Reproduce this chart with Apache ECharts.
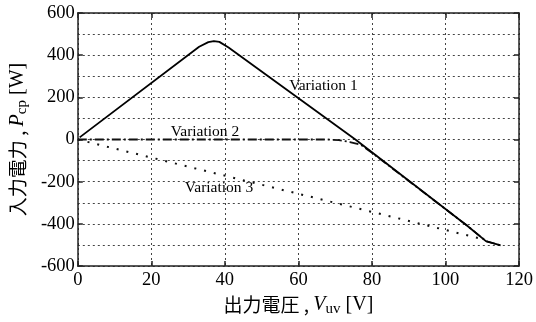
<!DOCTYPE html>
<html>
<head>
<meta charset="utf-8">
<script src="https://cdn.jsdelivr.net/npm/echarts@6/dist/echarts.min.js"></script>
<style>
  html, body { margin: 0; padding: 0; background: #fff; }
  #chart { width: 536px; height: 322px; }
</style>
</head>
<body>
<div id="chart"></div>
<script>
// Output voltage V_uv [V] vs input power P_cp [W] for three control variations
const variation1 = [
  [0.5, 10], [33, 440], [35.5, 462], [37, 467], [38.5, 463], [41, 436],
  [75.5, 0], [106, -410], [111, -482], [115, -502]
];
const variation2 = [
  [0, 0], [68, 0], [71, -3], [74, -12], [77, -25], [80, -63],
  [106, -410], [111, -482], [115, -502]
];
const variation3 = [[0, 0], [110, -472]];

const seriesNames = ['Variation 1', 'Variation 2', 'Variation 3'];
// anchor (in data units) of each series name
const nameAnchors = [[66.8, 254], [34.6, 37], [38.4, -231]];

const xTicks = { min: 0, max: 120, step: 20 };
const yTicks = { min: -600, max: 600, step: 200 };

const serif = 'Liberation Serif, Times New Roman, serif';
const cjk = 'Noto Sans CJK JP, sans-serif';
const gridDots = { type: [2, 3], color: '#444', width: 1 };
const frame = { color: '#222', width: 1.5 };

const chart = echarts.init(document.getElementById('chart'), null, { renderer: 'canvas' });

const titleRich = {
  c: { fontFamily: cjk, fontSize: 19, color: '#000', lineHeight: 24 },
  i: { fontFamily: serif, fontStyle: 'italic', fontSize: 20, color: '#000', lineHeight: 24 },
  s: { fontFamily: serif, fontSize: 15, color: '#000', lineHeight: 18, verticalAlign: 'bottom' },
  n: { fontFamily: serif, fontSize: 20, color: '#000', lineHeight: 24 }
};

chart.setOption({
  animation: false,
  backgroundColor: '#fff',
  grid: { left: 75, right: 17, top: 13, bottom: 49 },
  xAxis: [{
    type: 'value', min: xTicks.min, max: xTicks.max, interval: xTicks.step, position: 'bottom',
    name: '{c|出力電圧 , }{i|V}{s|uv}{n| [V]}',
    nameLocation: 'middle', nameGap: 27,
    nameTextStyle: { rich: titleRich },
    axisLine: { show: true, onZero: false, lineStyle: frame },
    axisTick: { show: true, inside: true, length: 5, lineStyle: frame },
    axisLabel: { fontFamily: serif, fontSize: 18.5, color: '#000', margin: 5 },
    splitLine: { show: true, lineStyle: gridDots }
  }, {
    type: 'value', min: xTicks.min, max: xTicks.max, interval: xTicks.step, position: 'top',
    axisLine: { show: true, onZero: false, lineStyle: frame },
    axisTick: { show: true, inside: true, length: 5, lineStyle: frame },
    axisLabel: { show: false }, splitLine: { show: false }
  }],
  yAxis: [{
    type: 'value', min: yTicks.min, max: yTicks.max, interval: yTicks.step, position: 'left',
    name: '{c|入力電力 , }{i|P}{s|cp}{n| [W]}',
    nameLocation: 'middle', nameGap: 41, nameRotate: 90,
    nameTextStyle: { rich: titleRich },
    axisLine: { show: true, onZero: false, lineStyle: frame },
    axisTick: { show: true, inside: true, length: 5, lineStyle: frame },
    axisLabel: { fontFamily: serif, fontSize: 18.5, color: '#000', margin: 3 },
    splitLine: { show: true, lineStyle: gridDots },
    minorTick: { show: false, splitNumber: 2 },
    minorSplitLine: { show: true, lineStyle: gridDots }
  }, {
    type: 'value', min: yTicks.min, max: yTicks.max, interval: yTicks.step, position: 'right',
    axisLine: { show: true, onZero: false, lineStyle: frame },
    axisTick: { show: true, inside: true, length: 5, lineStyle: frame },
    axisLabel: { show: false }, splitLine: { show: false }
  }],
  series: [{
    name: seriesNames[2], type: 'line', data: variation3, showSymbol: false, z: 3,
    lineStyle: { color: '#111', width: 2, type: [2, 8] }
  }, {
    name: seriesNames[1], type: 'line', data: variation2, showSymbol: false, z: 4,
    lineStyle: { color: '#111', width: 1.8, type: [9, 3, 2, 3] }
  }, {
    name: seriesNames[0], type: 'line', data: variation1, showSymbol: false, z: 5,
    lineStyle: { color: '#000', width: 1.8 }
  }]
});

// series names placed at their data-space anchors
chart.setOption({
  graphic: nameAnchors.map((p, k) => {
    const px = chart.convertToPixel({ xAxisIndex: 0, yAxisIndex: 0 }, p);
    return {
      type: 'text', x: px[0], y: px[1], z: 10,
      style: {
        text: seriesNames[k], fontFamily: serif, fontSize: 15.5, fill: '#000',
        align: 'center', verticalAlign: 'middle'
      }
    };
  })
});
</script>
</body>
</html>
